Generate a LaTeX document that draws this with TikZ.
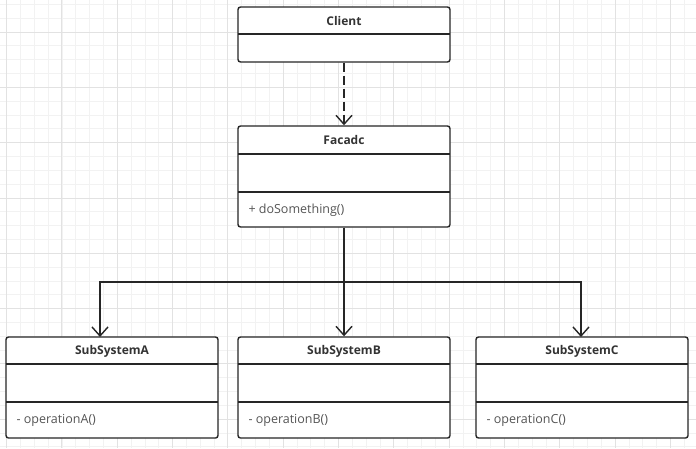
\documentclass[tikz,border=0pt]{standalone}
\usepackage{fontspec}
\setmainfont{Open Sans}
\usetikzlibrary{arrows.meta,calc}
\definecolor{txt}{HTML}{333333}
\definecolor{mtxt}{HTML}{555555}
\definecolor{gridminor}{HTML}{F2F2F2}
\definecolor{gridmajor}{HTML}{E2E2E2}
\tikzset{
  classbox/.style={draw=black!85, line width=1.4pt, rounded corners=2.5pt, fill=white, inner sep=0pt},
  divider/.style={draw=black!85, line width=1.4pt},
  title/.style={font=\fontsize{12}{14}\selectfont\bfseries, text=txt},
  member/.style={font=\fontsize{12.5}{14}\selectfont, text=mtxt, anchor=west},
  conn/.style={draw=black!85, line width=1.4pt, -{Straight Barb[length=9pt,width=16pt]}},
  dconn/.style={conn, dash pattern=on 9pt off 4pt}
}
\begin{document}
\begin{tikzpicture}[x=1pt,y=-1pt]
\useasboundingbox (0,0) rectangle (696,448);
\fill[white] (0,0) rectangle (696,448);
% grid
\foreach \i in {0,...,51} {
  \pgfmathsetmacro{\gx}{6.6-13.83+13.83*\i}
  \draw[gridminor, line width=0.8pt] (\gx,0) -- (\gx,448);
}
\foreach \i in {0,...,33} {
  \pgfmathsetmacro{\gy}{4.3-13.83+13.83*\i}
  \draw[gridminor, line width=0.8pt] (0,\gy) -- (696,\gy);
}
\foreach \i in {0,...,12} {
  \pgfmathsetmacro{\gx}{6.6+55.32*\i}
  \draw[gridmajor, line width=0.9pt] (\gx,0) -- (\gx,448);
}
\foreach \i in {0,...,8} {
  \pgfmathsetmacro{\gy}{32-55.32+55.32*\i}
  \draw[gridmajor, line width=0.9pt] (0,\gy) -- (696,\gy);
}
% Client
\node[classbox, minimum width=212pt, minimum height=55pt] (client) at (344,34.5) {};
\draw[divider] (238,34) -- (450,34);
\node[title] (clientT) at (344,20.5) {Client};
% Facade
\node[classbox, minimum width=212pt, minimum height=101pt] (fac) at (344,176.5) {};
\draw[divider] (238,154) -- (450,154);
\draw[divider] (238,192) -- (450,192);
\node[title] (facT) at (344,140) {Facadc};
\node[member] (facM) at (245,210) {+ doSomething()};
% SubSystemA
\node[classbox, minimum width=212pt, minimum height=101pt] (sa) at (112,387.5) {};
\draw[divider] (6,364) -- (218,364);
\draw[divider] (6,402) -- (218,402);
\node[title] (saT) at (112,351) {SubSystemA};
\node[member] (saM) at (13,420) {- operationA()};
% SubSystemB
\node[classbox, minimum width=212pt, minimum height=101pt] (sb) at (344,387.5) {};
\draw[divider] (238,364) -- (450,364);
\draw[divider] (238,402) -- (450,402);
\node[title] (sbT) at (344,351) {SubSystemB};
\node[member] (sbM) at (245,420) {- operationB()};
% SubSystemC
\node[classbox, minimum width=212pt, minimum height=101pt] (sc) at (582,387.5) {};
\draw[divider] (476,364) -- (688,364);
\draw[divider] (476,402) -- (688,402);
\node[title] (scT) at (582,351) {SubSystemC};
\node[member] (scM) at (483,420) {- operationC()};
% connectors
\coordinate (j) at (344,282);
\coordinate (aIn) at (100,337);
\coordinate (cIn) at (581,337);
\draw[dconn] (client.south) -- (fac.north);
\draw[conn] (fac.south) -- (sb.north);
\draw[conn] (j) -| (aIn);
\draw[conn] (j) -| (cIn);
\end{tikzpicture}
\end{document}
